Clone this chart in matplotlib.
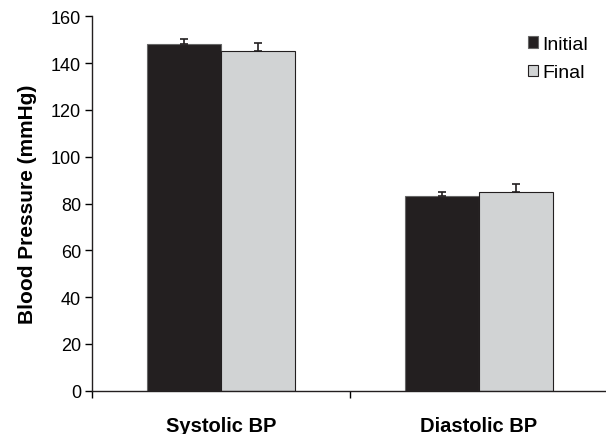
import matplotlib
matplotlib.use("Agg")
import matplotlib.pyplot as plt
import numpy as np

plt.rcParams['font.family'] = ['Liberation Sans', 'DejaVu Sans']

categories = ["Systolic BP", "Diastolic BP"]
series_names = ["Initial", "Final"]
initial = [148.2, 83.3]
initial_err = [2.0, 1.6]
final = [145.3, 84.8]
final_err = [3.4, 3.4]
yticks = [0, 20, 40, 60, 80, 100, 120, 140, 160]

fig = plt.figure(figsize=(6.06, 4.35), dpi=100)
ax = fig.add_axes([0.1518, 0.0995, 0.8515, 0.8605])

x = np.arange(len(categories))
w = 0.287
err_style = dict(ecolor="#231f20", capsize=3, elinewidth=1.2, capthick=1.2)
ax.bar(x - w / 2, initial, w, color="#231f20", edgecolor="#666666", linewidth=0.8,
       yerr=[[0, 0], initial_err], error_kw=err_style,
       label=series_names[0], zorder=2)
ax.bar(x + w / 2, final, w, color="#d1d3d4", edgecolor="#231f20", linewidth=0.8,
       yerr=[[0, 0], final_err], error_kw=err_style,
       label=series_names[1], zorder=2)

ax.set_xlim(-0.5, 1.5)
ax.set_ylim(0, 160)
ax.set_yticks(yticks)
ax.tick_params(axis="y", labelsize=13, length=5, width=1, direction="out", pad=3)

ax.set_xticks(x)
ax.set_xticklabels(categories, fontsize=14.5, fontweight="bold")
ax.tick_params(axis="x", which="major", length=0, pad=18)
ax.set_xticks([-0.5, 0.5, 1.5], minor=True)
ax.tick_params(axis="x", which="minor", length=5, width=1, direction="out")

ax.set_ylabel("Blood Pressure (mmHg)", fontsize=15, fontweight="bold", labelpad=10)

for s in ["top", "right"]:
    ax.spines[s].set_visible(False)
for s in ["left", "bottom"]:
    ax.spines[s].set_linewidth(1)
    ax.spines[s].set_color("#231f20")

leg = ax.legend(loc="upper right", bbox_to_anchor=(0.995, 0.995), frameon=False, fontsize=14,
                handlelength=0.55, handleheight=0.55, handletextpad=0.2, labelspacing=0.6)

fig.savefig("out.png", dpi=100)
